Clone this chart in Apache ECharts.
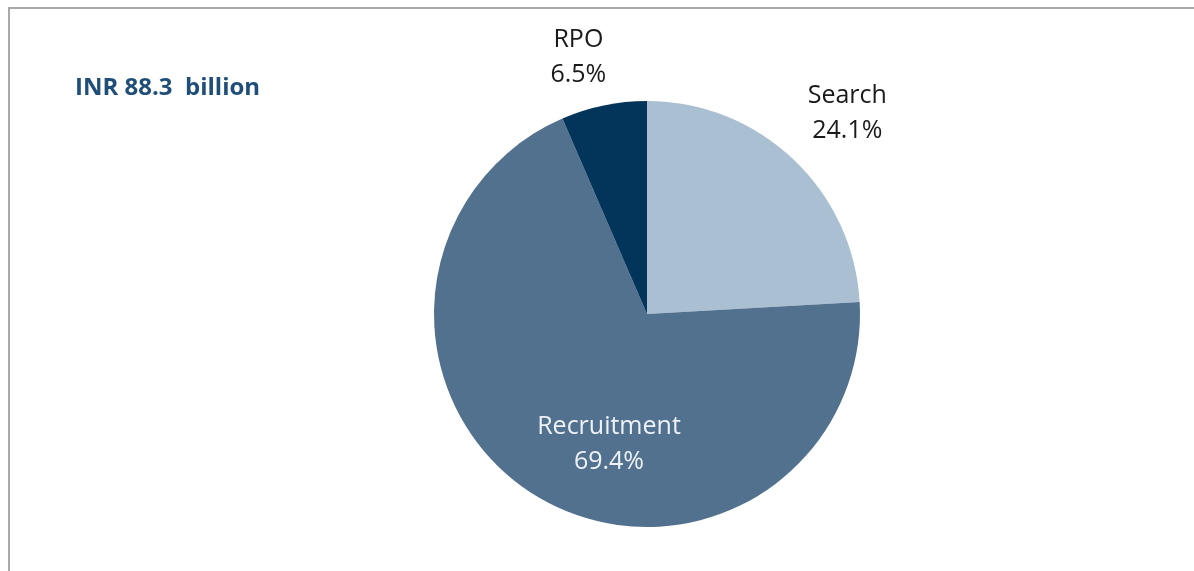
<!DOCTYPE html>
<html>
<head>
<meta charset="utf-8">
<script src="https://cdn.jsdelivr.net/npm/echarts@6/dist/echarts.min.js"></script>
<style>
html, body { margin: 0; padding: 0; background: #fff; }
#main { width: 1194px; height: 571px; }
</style>
</head>
<body>
<div id="main"></div>
<script>
var segments = ['Search', 'Recruitment', 'RPO'];
var shares = [24.1, 69.4, 6.5];
var segColors = ['#aabfd1', '#51718f', '#03345a'];
var titleText = 'INR 88.3  billion';

var cx = 647, cy = 314, R = 213;
// where each label sits: angle from 12 o'clock (deg, clockwise) and distance as fraction of radius
var labelAngle = [45, 196.3, -15];
var labelDist = [1.33, 0.636, 1.245];

var chart = echarts.init(document.getElementById('main'));

var option = {
    animation: false,
    backgroundColor: '#ffffff',
    graphic: [
        {
            type: 'polyline',
            shape: { points: [[9, 600], [9, 8], [1200, 8]] },
            style: { stroke: '#a9a9a9', lineWidth: 2, fill: null }
        },
        {
            type: 'text',
            x: 75,
            y: 88,
            style: {
                text: titleText,
                fill: '#1f4e79',
                font: 'bold 24px "Open Sans", sans-serif',
                verticalAlign: 'middle'
            }
        }
    ],
    series: [{
        type: 'pie',
        center: [cx, cy],
        radius: R,
        startAngle: 90,
        clockwise: true,
        label: {
            show: true,
            position: 'outside',
            formatter: '{b}\n{c}%',
            fontFamily: 'Open Sans',
            fontSize: 25,
            lineHeight: 35,
            color: '#1a1a1a',
            align: 'center'
        },
        labelLine: { show: false },
        labelLayout: function (p) {
            var a = labelAngle[p.dataIndex] * Math.PI / 180;
            var d = R * labelDist[p.dataIndex];
            return {
                x: cx + Math.sin(a) * d,
                y: cy - Math.cos(a) * d,
                align: 'center',
                verticalAlign: 'middle'
            };
        },
        itemStyle: { borderWidth: 0 },
        data: segments.map(function (s, i) {
            var item = { name: s, value: shares[i], itemStyle: { color: segColors[i] } };
            if (s === 'Recruitment') item.label = { color: '#eef2f6' };
            return item;
        })
    }]
};
chart.setOption(option);
</script>
</body>
</html>
